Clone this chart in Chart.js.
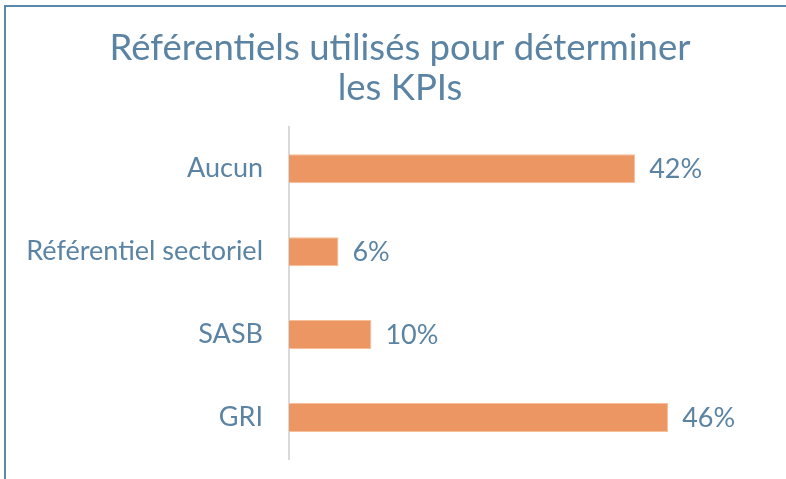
<!DOCTYPE html>
<html>
<head>
<meta charset="utf-8">
<script src="https://cdn.jsdelivr.net/npm/chart.js@4"></script>
<style>
    body { margin: 0; background: #fff; overflow: hidden; }
    #wrap { position: relative; width: 786px; height: 479px; }
    canvas { display: block; }
    #frame { position: absolute; left: 4px; top: 5px; right: -10px; bottom: -10px; border-top: 2px solid #5b87a8; border-left: 2px solid #5b87a8; pointer-events: none; }
</style>
</head>
<body>
<div id="wrap">
    <canvas id="kpiChart" width="786" height="479"></canvas>
    <div id="frame"></div>
</div>
<script>
const categories = ["Aucun", "Référentiel sectoriel", "SASB", "GRI"]
const values = [42, 6, 10, 46]
const titleLines = ["Référentiels utilisés pour déterminer", "les KPIs"]

const textColor = "#5b84a4"
const fontFamily = "Lato, 'Noto Sans', sans-serif"

// write the % next to each bar
const valueLabels = {
    id: "valueLabels",
    afterDatasetsDraw: (chart) => {
        const ctx = chart.ctx
        const meta = chart.getDatasetMeta(0)
        ctx.save()
        ctx.fillStyle = textColor
        ctx.font = "27px " + fontFamily
        ctx.textAlign = "left"
        ctx.textBaseline = "middle"
        meta.data.forEach((bar, i) => {
            ctx.fillText(values[i] + "%", bar.x + 14, bar.y + 1)
        })
        ctx.restore()
    }
}

const config = {
    type: "bar",
    data: {
        labels: categories,
        datasets: [{
            data: values,
            backgroundColor: "#eb9663",
            borderColor: "#f5bf99",
            borderWidth: 1,
            barPercentage: 0.7,
            categoryPercentage: 0.5
        }]
    },
    options: {
        indexAxis: "y",
        responsive: false,
        animation: false,
        layout: { padding: { left: 14, right: 0, bottom: 20, top: 0 } },
        scales: {
            x: { display: false, min: 0, max: 60.3 },
            y: {
                afterFit: (scale) => {
                    scale.width = 275
                    scale.paddingTop = 0
                    scale.paddingBottom = 0
                },
                border: { display: true, color: "#d9d9d9", width: 2 },
                grid: { display: false, drawTicks: false },
                ticks: {
                    color: textColor,
                    padding: 26,
                    font: { family: fontFamily, size: 27 }
                }
            }
        },
        plugins: {
            legend: { display: false },
            tooltip: { enabled: false },
            title: {
                display: true,
                text: titleLines,
                color: textColor,
                padding: { top: 28, bottom: 19 },
                font: { family: fontFamily, size: 36.5, weight: "normal", lineHeight: 1.1 }
            }
        }
    },
    plugins: [valueLabels]
}

new Chart(document.getElementById("kpiChart").getContext("2d"), config)
</script>
</body>
</html>
